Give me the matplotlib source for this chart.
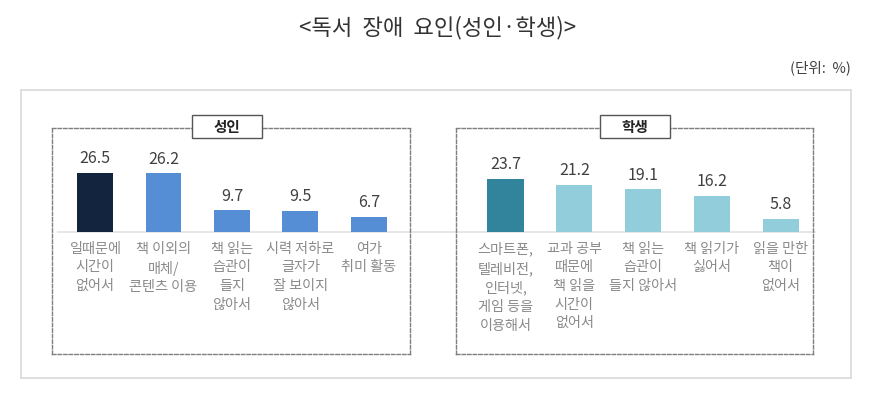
import matplotlib
matplotlib.use('Agg')
import matplotlib.pyplot as plt
from matplotlib.patches import Rectangle
from matplotlib.lines import Line2D

plt.rcParams['font.family'] = ['Noto Sans CJK KR', 'DejaVu Sans']

W, H = 876, 398

TITLE = '<독서  장애  요인(성인·학생)>'
UNIT = '(단위:  %)'

adult_title = '성인'
adult_labels = ['일때문에\n시간이\n없어서', '책 이외의\n매체/\n콘텐츠 이용',
                '책 읽는\n습관이\n들지\n않아서', '시력 저하로\n글자가\n잘 보이지\n않아서',
                '여가\n취미 활동']
adult_values = [26.5, 26.2, 9.7, 9.5, 6.7]

student_title = '학생'
student_labels = ['스마트폰,\n텔레비전,\n인터넷,\n게임 등을\n이용해서',
                  '교과 공부\n때문에\n책 읽을\n시간이\n없어서',
                  '책 읽는\n습관이\n들지 않아서', '책 읽기가\n싫어서',
                  '읽을 만한\n책이\n없어서']
student_values = [23.7, 21.2, 19.1, 16.2, 5.8]

# pixel helpers (top-left origin) -> figure fraction
def fx(px):
    return px / W

def fy(py):
    return 1 - py / H

fig = plt.figure(figsize=(W / 100, H / 100), dpi=100)
fig.patch.set_facecolor('white')

# outer light frame
fig.add_artist(Rectangle((fx(21), fy(378)), (851 - 21) / W, (378 - 90) / H,
                         transform=fig.transFigure, fill=False,
                         edgecolor='#d9d9d9', lw=1.2, zorder=-2))
# shared baseline
fig.add_artist(Line2D([fx(58), fx(815)], [fy(232), fy(232)],
                      transform=fig.transFigure, color='#e3e3e3', lw=1.2, zorder=-1))

fig.text(0.5, fy(28), TITLE, ha='center', va='center', fontsize=16, color='#333333')
fig.text(fx(851), fy(68), UNIT, ha='right', va='center', fontsize=10.5, color='#404040')

YTOP = (232 - 128) / 2.24
YBOT = -(354 - 232) / 2.24


def panel(left_px, right_px, xlim, labels, values, colors, title, title_cx):
    ax = fig.add_axes([fx(left_px), fy(354), (right_px - left_px) / W, (354 - 128) / H])
    ax.patch.set_visible(False)
    x = list(range(len(values)))
    bars = ax.bar(x, values, width=0.525, color=colors, zorder=2)
    ax.bar_label(bars, labels=[f'{v:.1f}' for v in values], padding=4,
                 fontsize=11.5, color='#404040')
    for i, lab in enumerate(labels):
        ax.annotate(lab, xy=(i, 0), xytext=(0, -7), textcoords='offset points',
                    ha='center', va='top', fontsize=10.2, color='#8a8a8a',
                    linespacing=1.42)
    ax.set_xlim(*xlim)
    ax.set_ylim(YBOT, YTOP)
    ax.set_xticks([])
    ax.set_yticks([])
    for sp in ax.spines.values():
        sp.set_linestyle((0, (2.5, 1.5)))
        sp.set_color('#7f7f7f')
        sp.set_linewidth(1)
    bw, bh = 70 / (right_px - left_px), 23 / (354 - 128)
    ax.add_patch(Rectangle((title_cx - bw / 2, 1 - bh / 2 + 0.005), bw, bh,
                           transform=ax.transAxes, facecolor='white',
                           edgecolor='#555555', lw=1, clip_on=False, zorder=5))
    ax.text(title_cx, 1.005, title, transform=ax.transAxes, ha='center', va='center',
            fontsize=10.5, fontweight='bold', color='#222222', zorder=6)
    return ax


panel(52, 410, (-0.628, 4.6), adult_labels, adult_values,
      ['#13243f'] + ['#558ed5'] * 4, adult_title, 0.489)
panel(456, 813, (-0.72, 4.47), student_labels, student_values,
      ['#31849b'] + ['#92cddc'] * 4, student_title, 0.5)

fig.savefig('out.png', dpi=100)
